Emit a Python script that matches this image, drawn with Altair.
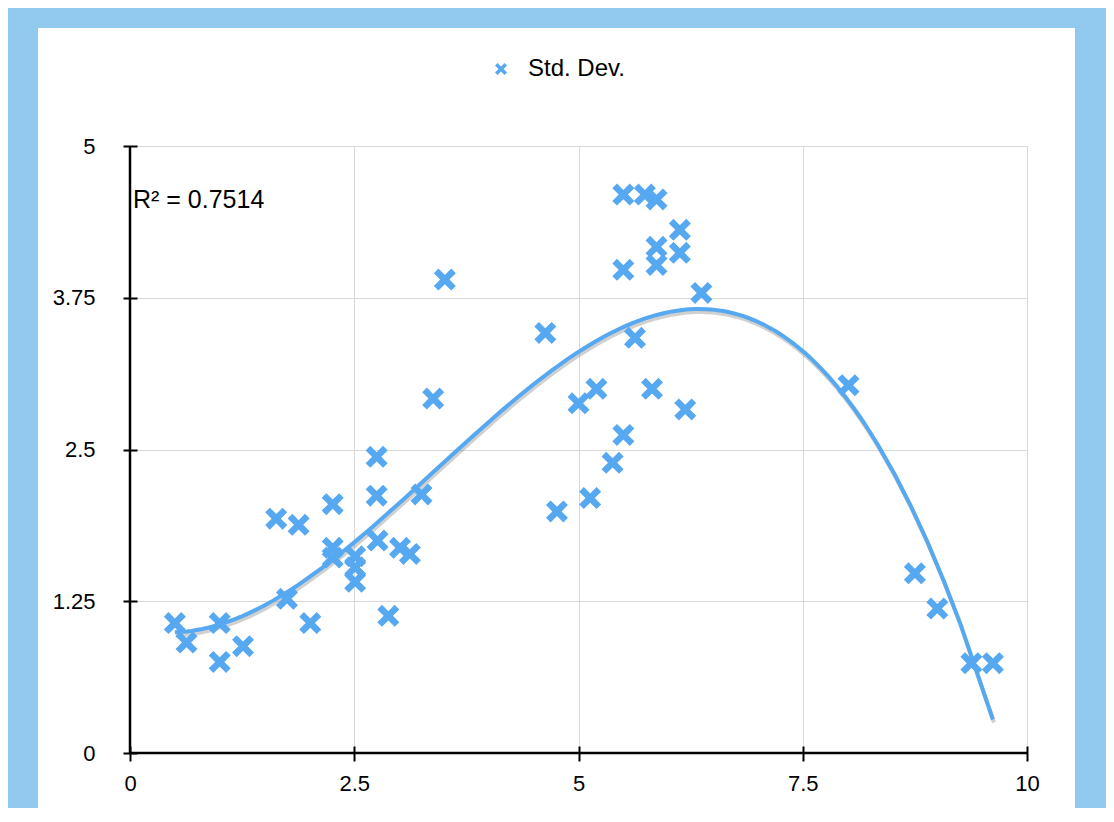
import altair as alt
import pandas as pd

# ---- data ----
asp_ratio = [0.50, 0.63, 1.00, 1.00, 1.26, 1.63, 1.75, 1.88, 2.01, 2.26,
             2.26, 2.26, 2.51, 2.51, 2.51, 2.75, 2.75, 2.76, 2.88, 3.01,
             3.12, 3.25, 3.38, 3.51, 4.63, 4.76, 5.00, 5.13, 5.20, 5.38,
             5.50, 5.50, 5.50, 5.63, 5.74, 5.82, 5.87, 5.87, 5.87, 6.13,
             6.13, 6.19, 6.37, 8.01, 8.75, 9.00, 9.38, 9.62]
std_dev = [1.07, 0.91, 1.07, 0.75, 0.88, 1.93, 1.27, 1.88, 1.07, 2.05,
           1.69, 1.61, 1.62, 1.53, 1.41, 2.44, 2.12, 1.75, 1.13, 1.69,
           1.64, 2.13, 2.92, 3.90, 3.46, 1.99, 2.88, 2.10, 3.00, 2.39,
           2.62, 3.98, 4.60, 3.42, 4.60, 3.00, 4.56, 4.17, 4.02, 4.31,
           4.12, 2.83, 3.79, 3.03, 1.48, 1.19, 0.74, 0.74]
series_name = "Std. Dev."
x_ticks = [0, 2.5, 5, 7.5, 10]
y_ticks = [0, 1.25, 2.5, 3.75, 5]
r2_text = "R² = 0.7514"
x_title = "Asp. Ratio"

BLUE = "#56a8f0"
PAGE_BLUE = "#92c9ee"
FONT = "Liberation Sans"
XPATH = "M-0.58,-1L0,-0.42L0.58,-1L1,-0.58L0.42,0L1,0.58L0.58,1L0,0.42L-0.58,1L-1,0.58L-0.42,0L-1,-0.58Z"

df = pd.DataFrame({"x": asp_ratio, "y": std_dev, "series": [series_name] * len(asp_ratio)})
one = pd.DataFrame({"a": [0]})

W, H = 897, 607

xscale = alt.Scale(domain=[0, 10], nice=False, zero=False)
yscale = alt.Scale(domain=[0, 5], nice=False, zero=False)

xaxis = alt.Axis(values=x_ticks, labelExpr="datum.value + ''", offset=-7, tickSize=15,
                 tickWidth=2, tickColor="black", domain=False, grid=True,
                 gridColor="#d9d9d9", gridWidth=1, labelFont=FONT, labelFontSize=22,
                 labelColor="black", labelPadding=12, title=x_title, titleFont=FONT,
                 titleFontSize=22, titleFontWeight="normal", titleColor="black",
                 titlePadding=16, labelFlush=False)
yaxis = alt.Axis(values=y_ticks, labelExpr="datum.value + ''", offset=-7, tickSize=14,
                 tickWidth=2, tickColor="black", domain=False, grid=True,
                 gridColor="#d9d9d9", gridWidth=1, labelFont=FONT, labelFontSize=22,
                 labelColor="black", labelPadding=28, title=None, labelFlush=False)

points = alt.Chart(df).mark_point(shape=XPATH, filled=True, size=484, opacity=1).encode(
    x=alt.X("x:Q", scale=xscale, axis=xaxis),
    y=alt.Y("y:Q", scale=yscale, axis=yaxis),
    color=alt.Color("series:N", scale=alt.Scale(domain=[series_name], range=[BLUE]),
                    legend=alt.Legend(title=None, orient="none", legendX=359, legendY=-89,
                                      padding=0, symbolType=XPATH, symbolSize=144,
                                      labelFont=FONT, labelFontSize=24, labelColor="black",
                                      labelOffset=15)),
)

trend_shadow = alt.Chart(df).transform_regression("x", "y", method="poly", order=3).mark_line(
    color="#777777", opacity=0.35, strokeWidth=4, yOffset=3, xOffset=1
).encode(x=alt.X("x:Q", scale=xscale), y=alt.Y("y:Q", scale=yscale))

trend = alt.Chart(df).transform_regression("x", "y", method="poly", order=3).mark_line(
    color=BLUE, strokeWidth=4
).encode(x=alt.X("x:Q", scale=xscale), y=alt.Y("y:Q", scale=yscale))

x_domain = alt.Chart(one).mark_rule(color="black", strokeWidth=2.5).encode(y=alt.datum(0, scale=yscale))
y_domain = alt.Chart(one).mark_rule(color="black", strokeWidth=2.5).encode(x=alt.datum(0, scale=xscale))

r2 = alt.Chart(one).mark_text(text=r2_text, align="left", baseline="middle", font=FONT,
                              fontSize=25, color="black", dx=3).encode(
    x=alt.datum(0, scale=xscale), y=alt.datum(4.555, scale=yscale))

strip_left = alt.Chart(one).mark_rect(color=PAGE_BLUE).encode(
    x=alt.value(-140), x2=alt.value(-92), y=alt.value(-150), y2=alt.value(720))
strip_top = alt.Chart(one).mark_rect(color=PAGE_BLUE).encode(
    x=alt.value(-140), x2=alt.value(1010), y=alt.value(-150), y2=alt.value(-118))
strip_right = alt.Chart(one).mark_rect(color=PAGE_BLUE).encode(
    x=alt.value(945), x2=alt.value(1010), y=alt.value(-150), y2=alt.value(720))

chart = alt.layer(
    strip_left, strip_top, strip_right,
    trend_shadow, points, trend, x_domain, y_domain, r2
).properties(
    width=W, height=H,
    autosize=alt.AutoSizeParams(type="none"),
    padding={"left": 122, "top": 138, "right": 79, "bottom": 55},
).configure(background="white").configure_view(stroke=None)

chart.save("out.html", embed_options={"renderer": "svg", "actions": False})
